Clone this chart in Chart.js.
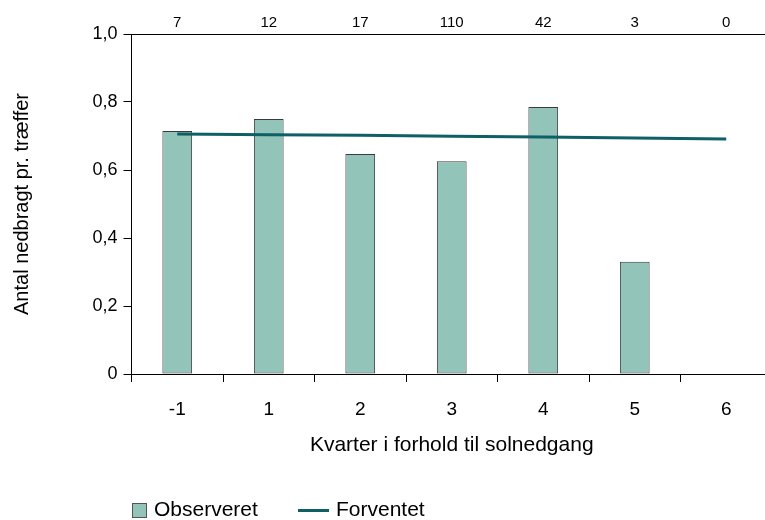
<!DOCTYPE html>
<html>
<head>
<meta charset="utf-8">
<script src="https://cdn.jsdelivr.net/npm/chart.js@4"></script>
<style>
  html, body { margin: 0; padding: 0; background: #fff; overflow: hidden; }
  #wrap { position: relative; width: 765px; height: 520px; overflow: hidden; }
  #chart { position: absolute; left: 0; top: 0; }
  .legend { position: absolute; top: 497px; left: 0; font-family: "Liberation Sans", Arial, sans-serif; font-size: 21px; color: #000; }
  .legend span { position: absolute; white-space: nowrap; }
  .box { width: 13px; height: 13px; background: #93c4b9; border: 1px solid #555; }
  .line { width: 31px; height: 3px; background: #0e5f66; }
</style>
</head>
<body>
<div id="wrap">
  <canvas id="chart" width="780" height="520"></canvas>
  <div class="legend">
    <span class="box" style="left:132px; top:6px;"></span>
    <span style="left:154px; top:0;">Observeret</span>
    <span class="line" style="left:298px; top:12px;"></span>
    <span style="left:336px; top:0;">Forventet</span>
  </div>
</div>
<script>
// Data
const quarters = ['-1', '1', '2', '3', '4', '5', '6'];
const counts = ['7', '12', '17', '110', '42', '3', '0'];
const observed = [0.715, 0.75, 0.647, 0.626, 0.785, 0.33, 0];
const expected = [0.706, 0.704, 0.702, 0.699, 0.697, 0.694, 0.691];

const font = 'Liberation Sans, Arial, sans-serif';
const ctx = document.getElementById('chart').getContext('2d');

new Chart(ctx, {
    data: {
        labels: quarters,
        datasets: [
            {
                type: 'bar',
                label: 'Observeret',
                data: observed,
                backgroundColor: '#93c4b9',
                borderColor: '#3a3a3a',
                borderWidth: 1,
                borderSkipped: false,
                categoryPercentage: 1,
                barPercentage: 0.325,
                order: 2
            },
            {
                type: 'line',
                label: 'Forventet',
                data: expected,
                borderColor: '#0e5f66',
                borderWidth: 3,
                pointRadius: 0,
                tension: 0,
                order: 1
            }
        ]
    },
    options: {
        responsive: false,
        devicePixelRatio: 1,
        animation: false,
        layout: { padding: { left: 0, top: 0, right: 8, bottom: 60 } },
        plugins: {
            legend: { display: false },
            tooltip: { enabled: false }
        },
        scales: {
            x: {
                type: 'category',
                position: 'bottom',
                offset: true,
                grid: {
                    offset: true,
                    drawOnChartArea: false,
                    drawTicks: true,
                    tickLength: 8,
                    color: '#000',
                    lineWidth: 1
                },
                border: { display: true, color: '#000', width: 1 },
                ticks: { color: '#000', font: { family: font, size: 19 }, padding: 16, maxRotation: 0 },
                title: {
                    display: true,
                    text: 'Kvarter i forhold til solnedgang',
                    color: '#000',
                    font: { family: font, size: 21 },
                    padding: { top: 6, bottom: 2 }
                },
                afterFit: (scale) => { scale.height = 86; }
            },
            xTop: {
                type: 'category',
                position: 'top',
                labels: counts,
                offset: true,
                grid: { display: false, drawTicks: false },
                border: { display: true, color: '#000', width: 1 },
                ticks: { color: '#000', font: { family: font, size: 15 }, padding: 2, maxRotation: 0 },
                afterFit: (scale) => { scale.height = 34; }
            },
            y: {
                min: 0,
                max: 1,
                grid: {
                    drawOnChartArea: false,
                    drawTicks: true,
                    tickLength: 8,
                    color: '#000'
                },
                border: { display: true, color: '#000', width: 1 },
                ticks: {
                    stepSize: 0.2,
                    color: '#000',
                    padding: 6,
                    font: { family: font, size: 18 },
                    callback: (v) => v === 0 ? '0' : v.toFixed(1).replace('.', ',')
                },
                title: {
                    display: true,
                    text: 'Antal nedbragt pr. træffer',
                    color: '#000',
                    font: { family: font, size: 20 },
                    padding: { top: 10, bottom: 0 }
                },
                afterFit: (scale) => { scale.width = 131.5; }
            }
        }
    }
});
</script>
</body>
</html>
